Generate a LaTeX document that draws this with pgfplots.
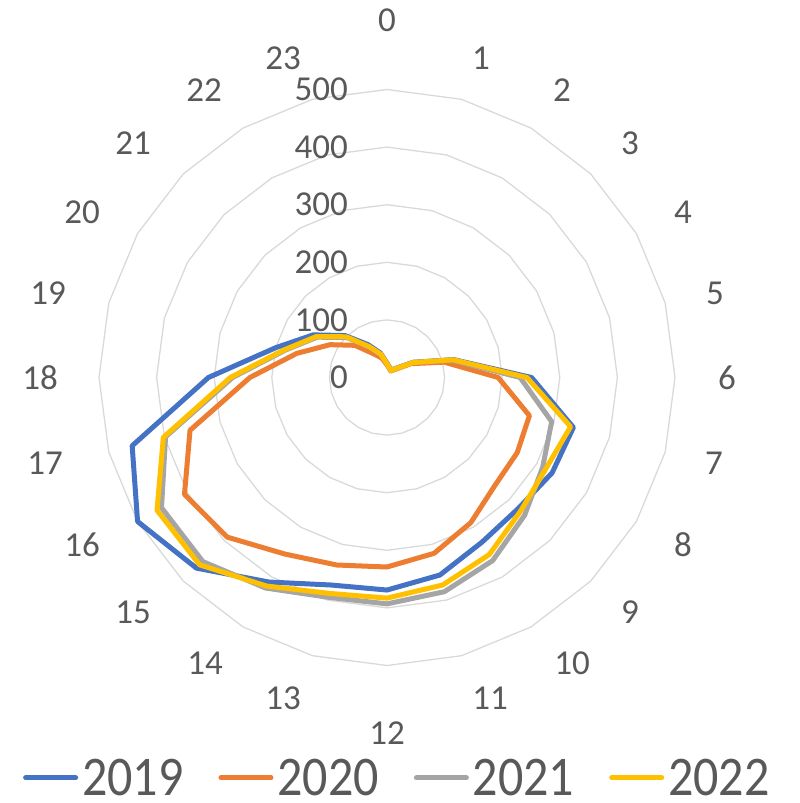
\documentclass[border=0pt]{standalone}
\usepackage{fontspec}
\setmainfont{Carlito}
\usepackage{graphicx}
\usepackage{pgfplots}
\usepackage{pgfplotstable}
\pgfplotsset{compat=1.18}
\definecolor{cA}{HTML}{4472C4}
\definecolor{cB}{HTML}{ED7D31}
\definecolor{cC}{HTML}{A5A5A5}
\definecolor{cD}{HTML}{FFC000}
\definecolor{txt}{HTML}{595959}
\definecolor{gridc}{HTML}{D9D9D9}

% hour, 2019, 2020, 2021, 2022 (row 24 closes the loop)
\pgfplotstableread{
h  a   b   c   d
0  25  22  24  24
1  18  16  17  17
2  15  13  14  14
3  23  20  22  22
4  53  48  52  52
5  120 103 117 119
6  251 193 231 243
7  335 256 296 330
8  331 261 312 318
9  322 265 338 328
10 330 291 367 355
11 355 316 385 373
12 369 329 393 383
13 373 337 395 388
14 410 354 422 418
15 468 392 452 460
16 500 406 452 461
17 458 354 398 402
18 310 238 268 272
19 200 162 183 185
20 148 114 140 142
21 103 79  98  100
22 66  48  61  62
23 44  35  41  42
24 25  22  24  24
}\data

\begin{document}
\begin{tikzpicture}
\begin{axis}[
  hide axis, scale only axis, width=576pt, height=576pt,
  xmin=-500, xmax=500, ymin=-500, ymax=500, clip=false,
  at={(0pt,0pt)}, anchor=center,
  legend columns=4,
  legend style={draw=none, fill=none, at={(0.518,-0.195)}, anchor=center,
    font=\fontsize{50}{60}\selectfont, text=txt, inner sep=0pt,
    nodes={inner sep=2pt},
    /tikz/every even column/.append style={column sep=33pt},
    /tikz/every odd column/.append style={column sep=2pt}},
  legend image code/.code={\draw[#1, line cap=round] (2.5pt,0pt) -- (52.5pt,0pt);},
]
\pgfplotsinvokeforeach{100,200,300,400,500}{
  \addplot[gridc, line width=1.3pt, forget plot] table[x expr={#1*sin(15*\thisrow{h})}, y expr={#1*cos(15*\thisrow{h})}] {\data};
}
\addplot[cA, line width=5pt, line join=round] table[x expr={\thisrow{a}*sin(15*\thisrow{h})}, y expr={\thisrow{a}*cos(15*\thisrow{h})}] {\data};
\addplot[cB, line width=5pt, line join=round] table[x expr={\thisrow{b}*sin(15*\thisrow{h})}, y expr={\thisrow{b}*cos(15*\thisrow{h})}] {\data};
\addplot[cC, line width=5pt, line join=round] table[x expr={\thisrow{c}*sin(15*\thisrow{h})}, y expr={\thisrow{c}*cos(15*\thisrow{h})}] {\data};
\addplot[cD, line width=5pt, line join=round] table[x expr={\thisrow{d}*sin(15*\thisrow{h})}, y expr={\thisrow{d}*cos(15*\thisrow{h})}] {\data};
\legend{\scalebox{1}[1.12]{2019},\scalebox{1}[1.12]{2020},\scalebox{1}[1.12]{2021},\scalebox{1}[1.12]{2022}}
\end{axis}
\begin{scope}[every node/.style={text=txt, inner sep=0pt, font=\fontsize{35}{42}\selectfont}]
% radial labels
\node[anchor=east] at (-39pt,0pt) {0};
\node[anchor=east] at (-39pt,57.6pt) {100};
\node[anchor=east] at (-39pt,115.2pt) {200};
\node[anchor=east] at (-39pt,172.8pt) {300};
\node[anchor=east] at (-39pt,230.4pt) {400};
\node[anchor=east] at (-39pt,288pt) {500};
% hour labels
\node at (0pt,357.5pt) {0};
\node at (94pt,319.5pt) {1};
\node at (175pt,287.5pt) {2};
\node at (243pt,234.5pt) {3};
\node at (296pt,165.5pt) {4};
\node at (328pt,84.5pt) {5};
\node at (340pt,0pt) {6};
\node at (327pt,-85.5pt) {7};
\node at (296pt,-167.5pt) {8};
\node at (243pt,-234.5pt) {9};
\node at (185pt,-285.5pt) {10};
\node at (103pt,-320.5pt) {11};
\node at (0pt,-355.5pt) {12};
\node at (-104pt,-320.5pt) {13};
\node at (-182pt,-285.5pt) {14};
\node at (-254pt,-234.5pt) {15};
\node at (-305pt,-167.5pt) {16};
\node at (-342pt,-85.5pt) {17};
\node at (-347pt,0pt) {18};
\node at (-339pt,84.5pt) {19};
\node at (-305pt,165.5pt) {20};
\node at (-254pt,234.5pt) {21};
\node at (-183pt,287.5pt) {22};
\node at (-104pt,319.5pt) {23};
\end{scope}
\pgfresetboundingbox
\path[use as bounding box] (-387pt,-425.5pt) rectangle (413pt,377.5pt);
\end{tikzpicture}
\end{document}
